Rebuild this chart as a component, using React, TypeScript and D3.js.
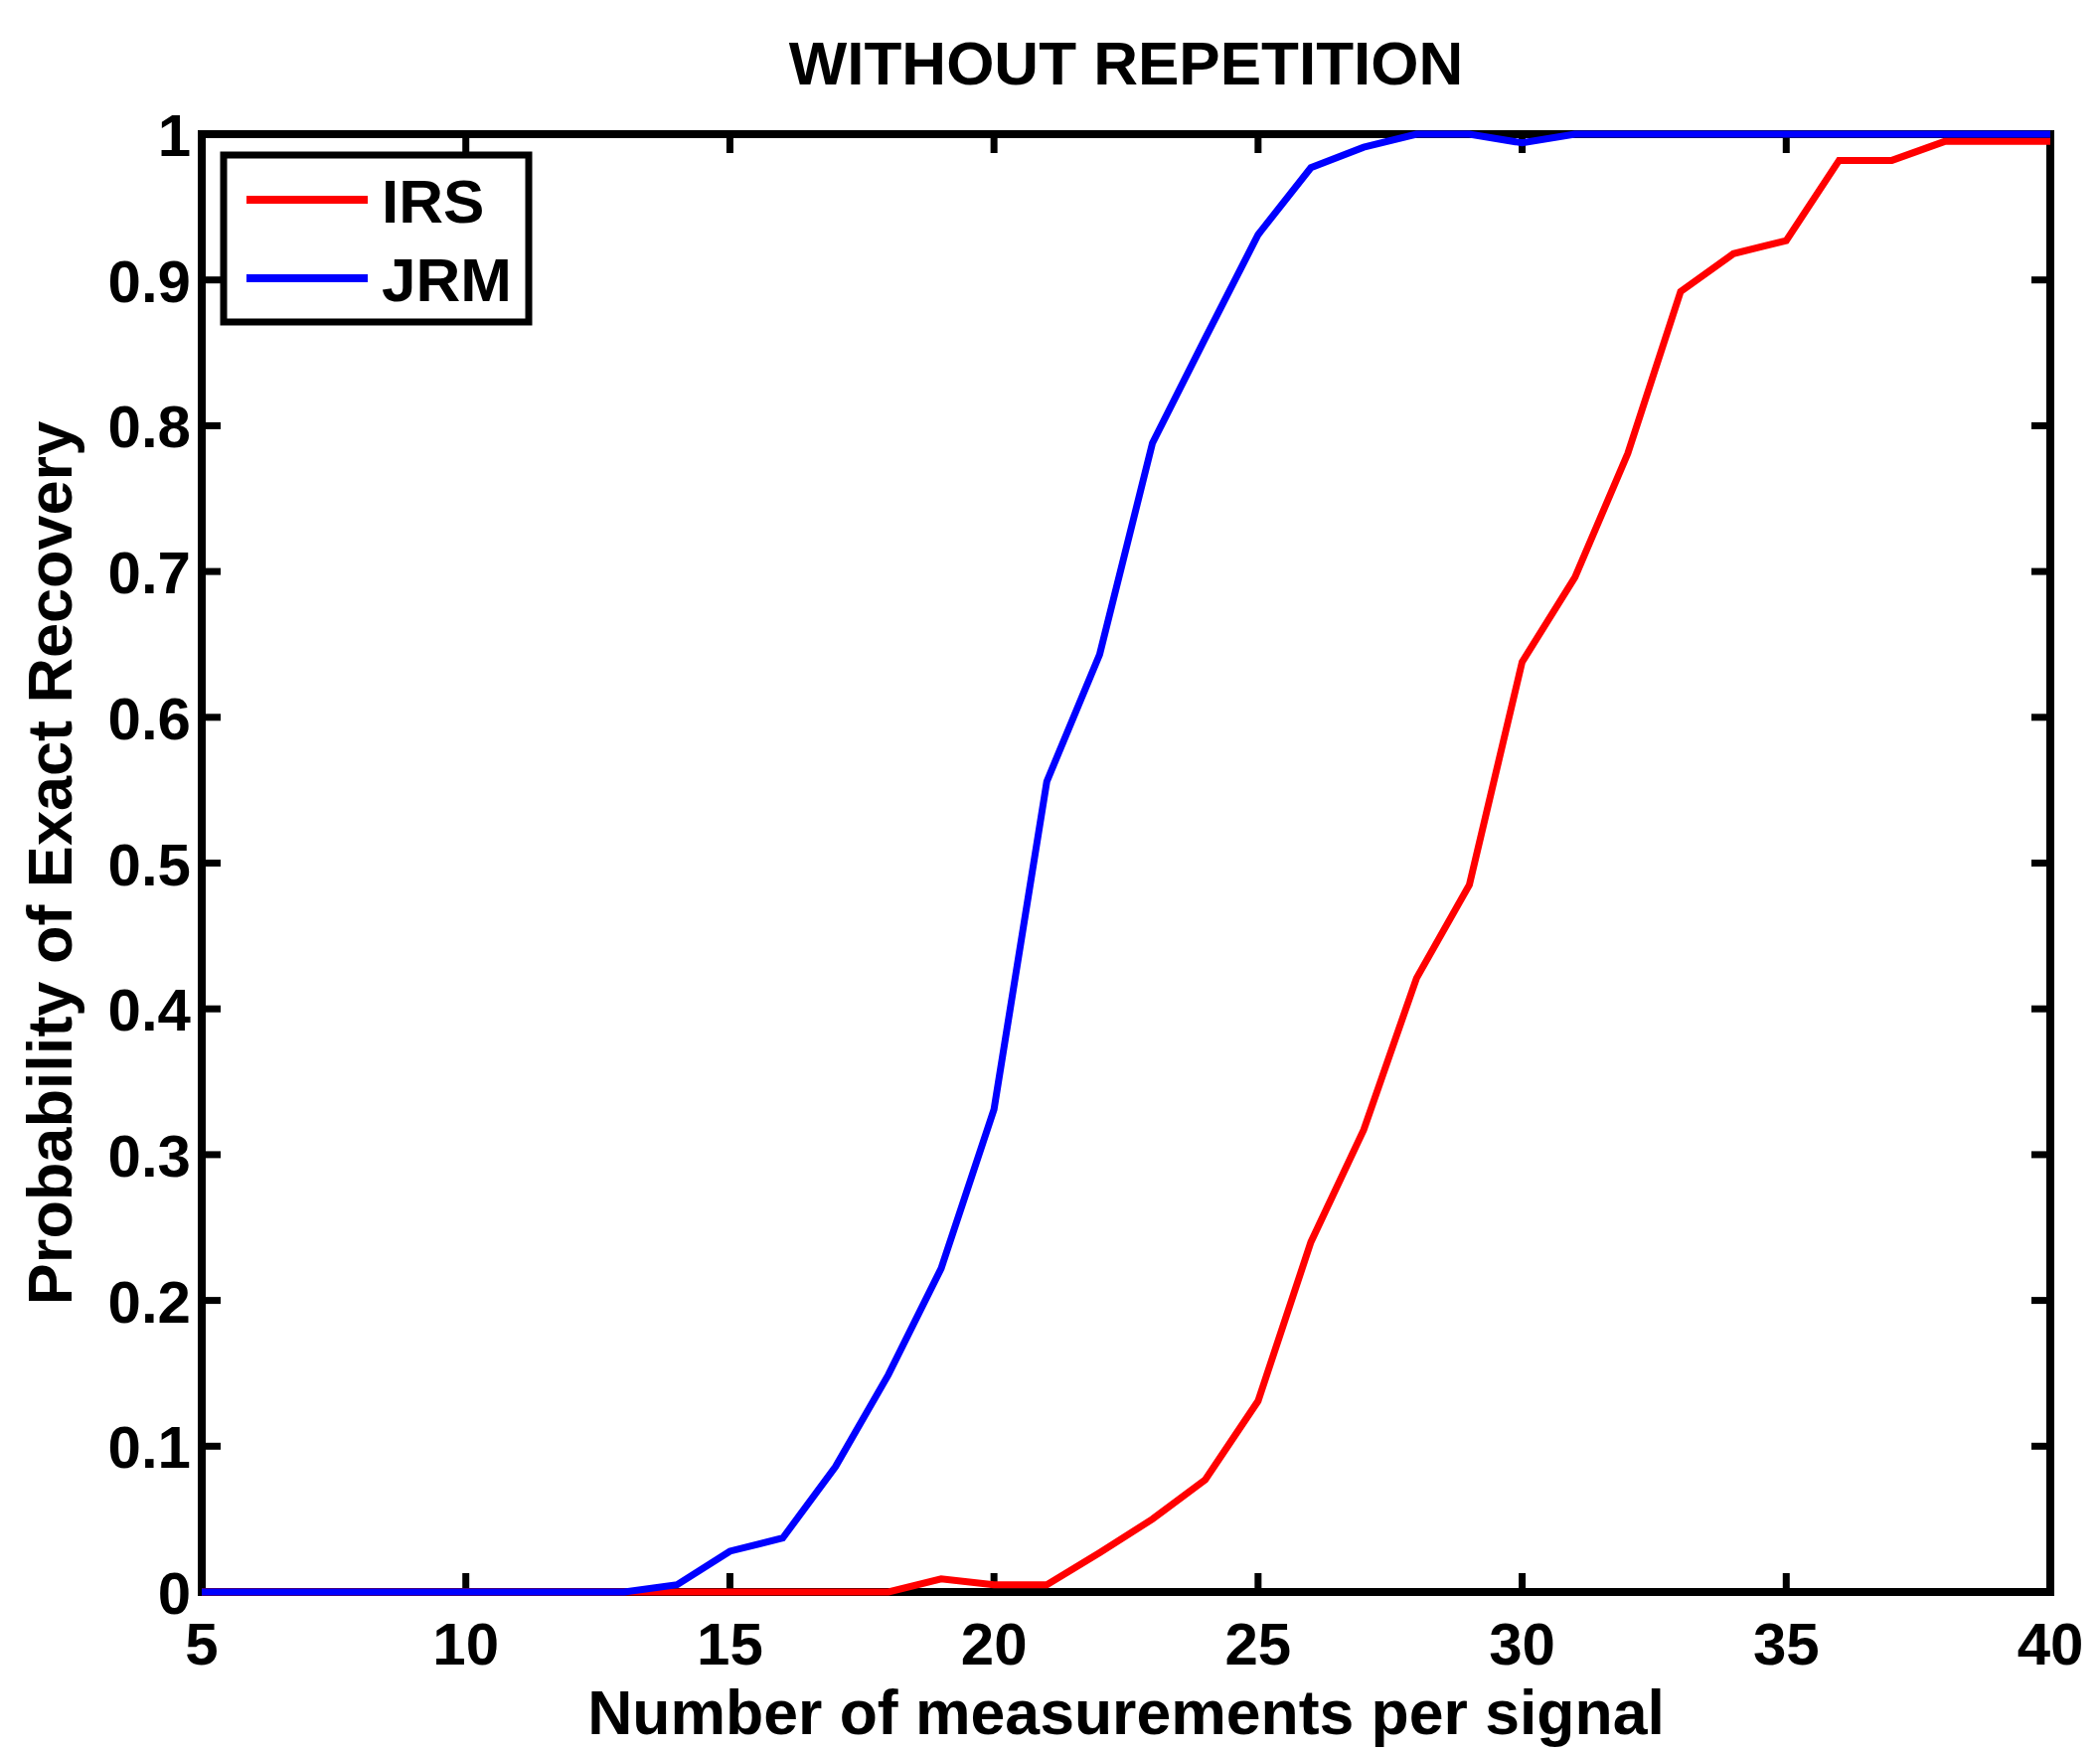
import * as d3 from 'd3';
import React, { useEffect, useRef } from 'react';

// measurements per signal
const measurements = [5, 6, 7, 8, 9, 10, 11, 12, 13, 14, 15, 16, 17, 18, 19, 20, 21, 22,
    23, 24, 25, 26, 27, 28, 29, 30, 31, 32, 33, 34, 35, 36, 37, 38, 39, 40];

const irs = [0, 0, 0, 0, 0, 0, 0, 0, 0, 0, 0, 0, 0, 0, 0.009, 0.005, 0.005, 0.027,
    0.05, 0.077, 0.131, 0.24, 0.317, 0.421, 0.485, 0.638, 0.696, 0.781, 0.892, 0.918, 0.927, 0.982, 0.982, 0.995, 0.995, 0.995];

const jrm = [0, 0, 0, 0, 0, 0, 0, 0, 0, 0.005, 0.028, 0.037, 0.086, 0.149, 0.222, 0.331, 0.556, 0.643,
    0.788, 0.86, 0.931, 0.977, 0.991, 1, 1, 0.994, 1, 1, 1, 1, 1, 1, 1, 1, 1, 1];

const xTicks = [5, 10, 15, 20, 25, 30, 35, 40];
const yTicks = [0, 0.1, 0.2, 0.3, 0.4, 0.5, 0.6, 0.7, 0.8, 0.9, 1];

const seriesNames = ['IRS', 'JRM'];
const seriesColors = ['#ff0000', '#0000ff'];

const W = 2113, H = 1763;
const left = 203, right = 2063, top = 135, bottom = 1602;
const FONT = '"Liberation Sans", Arial, Helvetica, sans-serif';

export default () => {
    const ref = useRef<any>();

    useEffect(() => {
        const svg = d3.select<any, any>(ref.current);
        svg.selectAll('*').remove();

        const x = d3.scaleLinear().domain([5, 40]).range([left, right]);
        const y = d3.scaleLinear().domain([0, 1]).range([bottom, top]);
        const tickLen = 19;

        const g = svg.append('g');

        // box
        g.append('rect')
            .attr('x', left).attr('y', top)
            .attr('width', right - left).attr('height', bottom - top)
            .attr('fill', 'none').attr('stroke', '#000').attr('stroke-width', 8);

        // ticks on all four sides, pointing in
        xTicks.forEach(t => {
            g.append('line').attr('x1', x(t)).attr('x2', x(t)).attr('y1', bottom).attr('y2', bottom - tickLen)
                .attr('stroke', '#000').attr('stroke-width', 7);
            g.append('line').attr('x1', x(t)).attr('x2', x(t)).attr('y1', top).attr('y2', top + tickLen)
                .attr('stroke', '#000').attr('stroke-width', 7);
            g.append('text').attr('x', x(t)).attr('y', 1675)
                .attr('text-anchor', 'middle')
                .attr('font-family', FONT).attr('font-weight', 'bold').attr('font-size', 60)
                .text(String(t));
        });
        yTicks.forEach(t => {
            g.append('line').attr('x1', left).attr('x2', left + tickLen).attr('y1', y(t)).attr('y2', y(t))
                .attr('stroke', '#000').attr('stroke-width', 7);
            g.append('line').attr('x1', right).attr('x2', right - tickLen).attr('y1', y(t)).attr('y2', y(t))
                .attr('stroke', '#000').attr('stroke-width', 7);
            g.append('text').attr('x', 192).attr('y', y(t) + 22)
                .attr('text-anchor', 'end')
                .attr('font-family', FONT).attr('font-weight', 'bold').attr('font-size', 60)
                .text(String(t));
        });

        // lines
        const line = d3.line<number>()
            .x((d, i) => x(measurements[i]))
            .y(d => y(d));
        [irs, jrm].forEach((s, i) => {
            g.append('path')
                .attr('d', line(s))
                .attr('fill', 'none')
                .attr('stroke', seriesColors[i])
                .attr('stroke-width', 7)
                .attr('stroke-linejoin', 'miter');
        });

        // title and labels
        g.append('text').attr('x', (left + right) / 2).attr('y', 85)
            .attr('text-anchor', 'middle')
            .attr('font-family', FONT).attr('font-weight', 'bold').attr('font-size', 62)
            .text('WITHOUT REPETITION');
        g.append('text').attr('x', (left + right) / 2).attr('y', 1745)
            .attr('text-anchor', 'middle')
            .attr('font-family', FONT).attr('font-weight', 'bold').attr('font-size', 62.5)
            .text('Number of measurements per signal');
        g.append('text')
            .attr('transform', `translate(72, ${(top + bottom) / 2}) rotate(-90)`)
            .attr('text-anchor', 'middle')
            .attr('font-family', FONT).attr('font-weight', 'bold').attr('font-size', 63)
            .text('Probability of Exact Recovery');

        // legend
        const lg = g.append('g');
        lg.append('rect')
            .attr('x', 225).attr('y', 156).attr('width', 307).attr('height', 168)
            .attr('fill', '#fff').attr('stroke', '#000').attr('stroke-width', 7);
        seriesNames.forEach((n, i) => {
            const ly = 201 + i * 79;
            lg.append('line').attr('x1', 248).attr('x2', 370).attr('y1', ly).attr('y2', ly)
                .attr('stroke', seriesColors[i]).attr('stroke-width', 8);
            lg.append('text').attr('x', 384).attr('y', ly + 23)
                .attr('font-family', FONT).attr('font-weight', 'bold').attr('font-size', 62)
                .text(n);
        });
    });

    return (
        <svg ref={ref} width={W} height={H} style={{ position: 'absolute', left: 0, top: 0, background: '#fff' }} />
    );
};
